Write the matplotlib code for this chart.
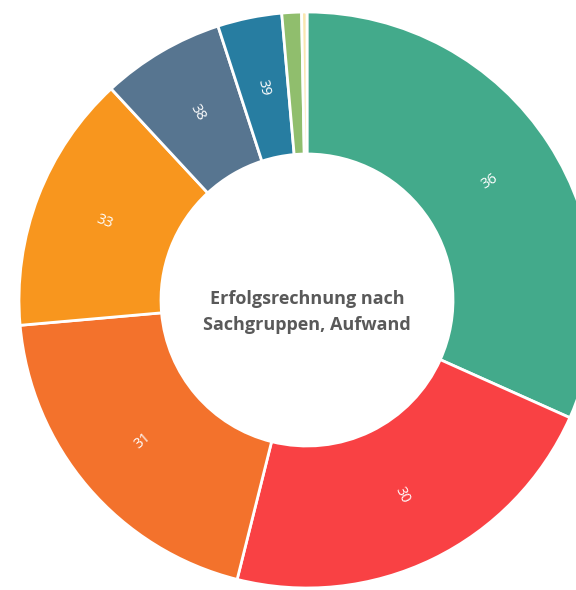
import matplotlib
matplotlib.use("Agg")
import matplotlib.pyplot as plt
import numpy as np

# Sachgruppen (clockwise from the top) and their share of Aufwand
groups = ["36", "30", "31", "33", "38", "39", "34", "37"]
values = [31.7, 22.2, 19.7, 14.5, 6.9, 3.6, 1.1, 0.3]
colors = ["#43AA8B", "#F94144", "#F3722C", "#F8961E", "#577590", "#277DA1", "#90BE6D", "#F9E7B0"]
show_label = [True, True, True, True, True, True, False, False]

title_text = "Erfolgsrechnung nach\nSachgruppen, Aufwand"

W, H = 576, 590
fig = plt.figure(figsize=(W / 100, H / 100), dpi=100)
ax = fig.add_axes([0, 0, 1, 1])

cx, cy = 307, H - 300
r_out, r_in = 288, 146

wedges, _ = ax.pie(values, colors=colors, startangle=90, counterclock=False,
                   center=(cx, cy), radius=r_out, frame=True,
                   wedgeprops=dict(width=r_out - r_in, edgecolor="white", linewidth=2))
ax.set_xlim(0, W)
ax.set_ylim(0, H)
ax.set_aspect("equal")
ax.axis("off")

# labels in the middle of the ring, rotated along the radius
r_mid = (r_out + r_in) / 2
for w, g, show in zip(wedges, groups, show_label):
    if not show:
        continue
    mid = (w.theta1 + w.theta2) / 2
    a = np.deg2rad(mid)
    x = cx + r_mid * np.cos(a)
    y = cy + r_mid * np.sin(a)
    rot = mid % 360
    if 90 < rot < 270:
        rot -= 180
    elif rot >= 270:
        rot -= 360
    ax.text(x, y, g, color="white", fontsize=10.5, rotation=rot,
            ha="center", va="center", rotation_mode="anchor", family="Open Sans")

ax.text(cx, H - 312, title_text, ha="center", va="center", fontsize=13,
        fontweight="bold", color="#595959", family="Open Sans", linespacing=1.5)

fig.savefig("out.png", dpi=100)
